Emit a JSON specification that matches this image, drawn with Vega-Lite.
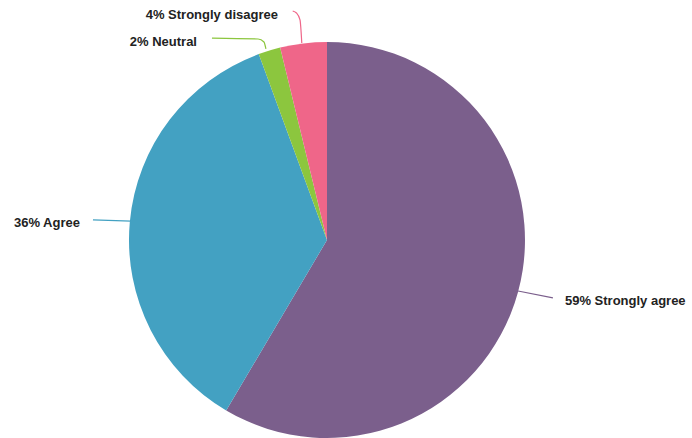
{
  "$schema": "https://vega.github.io/schema/vega-lite/v6.json",
  "width": 692,
  "height": 438,
  "autosize": "none",
  "padding": 0,
  "background": "white",
  "config": {"view": {"stroke": null}},
  "datasets": {
    "slices": [
      {"category": "Strongly agree", "value": 58.5, "rank": 1},
      {"category": "Agree", "value": 35.9, "rank": 2},
      {"category": "Neutral", "value": 1.8, "rank": 3},
      {"category": "Strongly disagree", "value": 3.8, "rank": 4}
    ],
    "leaders": [
      {"category": "Strongly disagree", "step": 1, "px": -0.128, "py": 1.0},
      {"category": "Strongly disagree", "step": 2, "px": -0.137, "py": 1.117},
      {"category": "Strongly disagree", "step": 3, "px": -0.155, "py": 1.152},
      {"category": "Strongly disagree", "step": 4, "px": -0.174, "py": 1.162},
      {"category": "Neutral", "step": 1, "px": -0.31, "py": 0.97},
      {"category": "Neutral", "step": 2, "px": -0.32, "py": 1.005},
      {"category": "Neutral", "step": 3, "px": -0.35, "py": 1.02},
      {"category": "Neutral", "step": 4, "px": -0.584, "py": 1.025},
      {"category": "Agree", "step": 1, "px": -0.995, "py": 0.096},
      {"category": "Agree", "step": 2, "px": -1.188, "py": 0.102},
      {"category": "Strongly agree", "step": 1, "px": 0.97, "py": -0.259},
      {"category": "Strongly agree", "step": 2, "px": 1.147, "py": -0.294}
    ],
    "labels": [
      {"label": "4% Strongly disagree", "px": -0.249, "py": 1.142, "side": "right"},
      {"label": "2% Neutral", "px": -0.66, "py": 1.005, "side": "right"},
      {"label": "36% Agree", "px": -1.254, "py": 0.086, "side": "right"},
      {"label": "59% Strongly agree", "px": 1.208, "py": -0.31, "side": "left"}
    ]
  },
  "layer": [
    {
      "data": {"name": "slices"},
      "mark": {"type": "arc", "outerRadius": 198},
      "encoding": {
        "x": {"datum": 0, "type": "quantitative", "scale": {"domain": [-1.66, 1.853], "nice": false, "zero": false}, "axis": null},
        "y": {"datum": 0, "type": "quantitative", "scale": {"domain": [-1.005, 1.218], "nice": false, "zero": false}, "axis": null},
        "theta": {"field": "value", "type": "quantitative", "stack": true},
        "order": {"field": "rank", "type": "quantitative"},
        "color": {
          "field": "category", "type": "nominal", "legend": null,
          "scale": {
            "domain": ["Strongly agree", "Agree", "Neutral", "Strongly disagree"],
            "range": ["#7b5f8c", "#43a1c2", "#8cc63e", "#ef6689"]
          }
        }
      }
    },
    {
      "data": {"name": "leaders"},
      "mark": {"type": "line", "strokeWidth": 1.2, "interpolate": "monotone"},
      "encoding": {
        "x": {"field": "px", "type": "quantitative", "scale": {"domain": [-1.66, 1.853], "nice": false, "zero": false}, "axis": null},
        "y": {"field": "py", "type": "quantitative", "scale": {"domain": [-1.005, 1.218], "nice": false, "zero": false}, "axis": null},
        "order": {"field": "step", "type": "quantitative"},
        "detail": {"field": "category"},
        "color": {"field": "category", "type": "nominal", "legend": null}
      }
    },
    {
      "data": {"name": "labels"},
      "transform": [{"filter": "datum.side === 'right'"}],
      "mark": {"type": "text", "align": "right", "baseline": "middle", "font": "Liberation Sans", "fontWeight": "bold", "fontSize": 13, "color": "#222222"},
      "encoding": {
        "x": {"field": "px", "type": "quantitative", "axis": null},
        "y": {"field": "py", "type": "quantitative", "axis": null},
        "text": {"field": "label"}
      }
    },
    {
      "data": {"name": "labels"},
      "transform": [{"filter": "datum.side === 'left'"}],
      "mark": {"type": "text", "align": "left", "baseline": "middle", "font": "Liberation Sans", "fontWeight": "bold", "fontSize": 13, "color": "#222222"},
      "encoding": {
        "x": {"field": "px", "type": "quantitative", "axis": null},
        "y": {"field": "py", "type": "quantitative", "axis": null},
        "text": {"field": "label"}
      }
    }
  ]
}
